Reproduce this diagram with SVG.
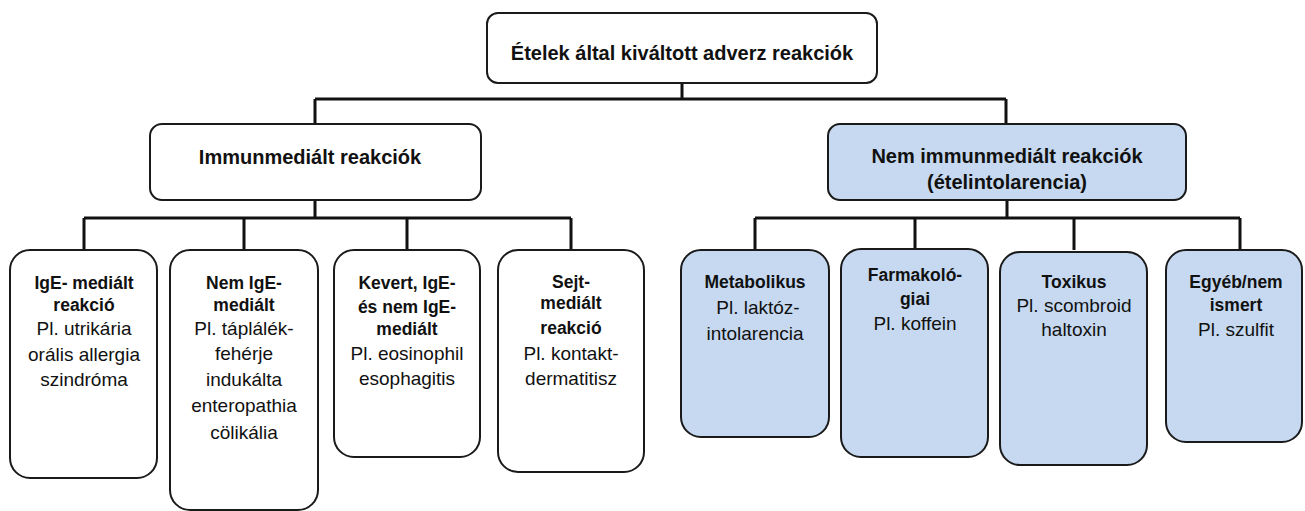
<svg xmlns="http://www.w3.org/2000/svg" width="1305" height="511" viewBox="0 0 1305 511">
<style>
.box{fill:#ffffff;stroke:#1a1a1a;stroke-width:2}
.blue{fill:#c6d9f0;stroke:#1a1a1a;stroke-width:2}
.con{fill:none;stroke:#111;stroke-width:3}
text{font-family:"Liberation Sans",Arial,sans-serif;fill:#111;text-anchor:middle}
.h{font-size:20px;font-weight:bold}
.b{font-size:17.5px;font-weight:bold}
.n{font-size:19px}
</style>
<rect width="1305" height="511" fill="#ffffff"/>
<g id="connectors">
<path class="con" d="M682 83V99M315 99H1006M315 99V124M1006 99V124"/>
<path class="con" d="M315 200V218M84 218H571M84 218V250M244 218V250M407 218V250M571 218V250"/>
<path class="con" d="M1007 200V218M755 218H1240M755 218V250M915 218V250M1074 218V250M1240 218V250"/>
</g>
<g id="root">
<rect class="box" x="487" y="13" width="390" height="70" rx="11"/>
<text class="h" x="682" y="60">Ételek által kiváltott adverz reakciók</text>
</g>
<g id="immun">
<rect class="box" x="150" y="124" width="331" height="76" rx="12"/>
<text class="h" x="310" y="164">Immunmediált reakciók</text>
</g>
<g id="nemimmun">
<rect class="blue" x="828" y="124" width="358" height="76" rx="12"/>
<text class="h" x="1007" y="163">Nem immunmediált reakciók</text>
<text class="h" x="1007" y="189">(ételintolarencia)</text>
</g>
<g id="ige">
<rect class="box" x="10" y="250" width="147" height="228" rx="20"/>
<text class="b" x="84" y="289">IgE- mediált</text>
<text class="b" x="84" y="311">reakció</text>
<text class="n" x="84" y="335">Pl. utrikária</text>
<text class="n" x="84" y="361">orális allergia</text>
<text class="n" x="84" y="386">szindróma</text>
</g>
<g id="nemige">
<rect class="box" x="170" y="250" width="148" height="260" rx="20"/>
<text class="b" x="244" y="289">Nem IgE-</text>
<text class="b" x="244" y="311">mediált</text>
<text class="n" x="244" y="335">Pl. táplálék-</text>
<text class="n" x="244" y="360">fehérje</text>
<text class="n" x="244" y="386">indukálta</text>
<text class="n" x="244" y="412">enteropathia</text>
<text class="n" x="244" y="439">cölikália</text>
</g>
<g id="kevert">
<rect class="box" x="334" y="250" width="146" height="207" rx="20"/>
<text class="b" x="407" y="289">Kevert, IgE-</text>
<text class="b" x="407" y="313">és nem IgE-</text>
<text class="b" x="407" y="335">mediált</text>
<text class="n" x="407" y="360">Pl. eosinophil</text>
<text class="n" x="407" y="385">esophagitis</text>
</g>
<g id="sejt">
<rect class="box" x="498" y="250" width="146" height="222" rx="20"/>
<text class="b" x="571" y="288">Sejt-</text>
<text class="b" x="571" y="309">mediált</text>
<text class="b" x="571" y="334">reakció</text>
<text class="n" x="571" y="360">Pl. kontakt-</text>
<text class="n" x="571" y="385">dermatitisz</text>
</g>
<g id="metabolikus">
<rect class="blue" x="681" y="250" width="148" height="187" rx="20"/>
<text class="b" x="755" y="288">Metabolikus</text>
<text class="n" x="758" y="314">Pl. laktóz-</text>
<text class="n" x="755" y="340">intolarencia</text>
</g>
<g id="farmakologiai">
<rect class="blue" x="841" y="249" width="147" height="208" rx="20"/>
<text class="b" x="915" y="281">Farmakoló-</text>
<text class="b" x="915" y="305">giai</text>
<text class="n" x="915" y="330">Pl. koffein</text>
</g>
<g id="toxikus">
<rect class="blue" x="1000" y="252" width="147" height="213" rx="20"/>
<text class="b" x="1074" y="288">Toxikus</text>
<text class="n" x="1074" y="312">Pl. scombroid</text>
<text class="n" x="1074" y="336">haltoxin</text>
</g>
<g id="egyeb">
<rect class="blue" x="1166" y="250" width="136" height="192" rx="20"/>
<text class="b" x="1236" y="288">Egyéb/nem</text>
<text class="b" x="1236" y="311">ismert</text>
<text class="n" x="1236" y="336">Pl. szulfit</text>
</g>
</svg>
